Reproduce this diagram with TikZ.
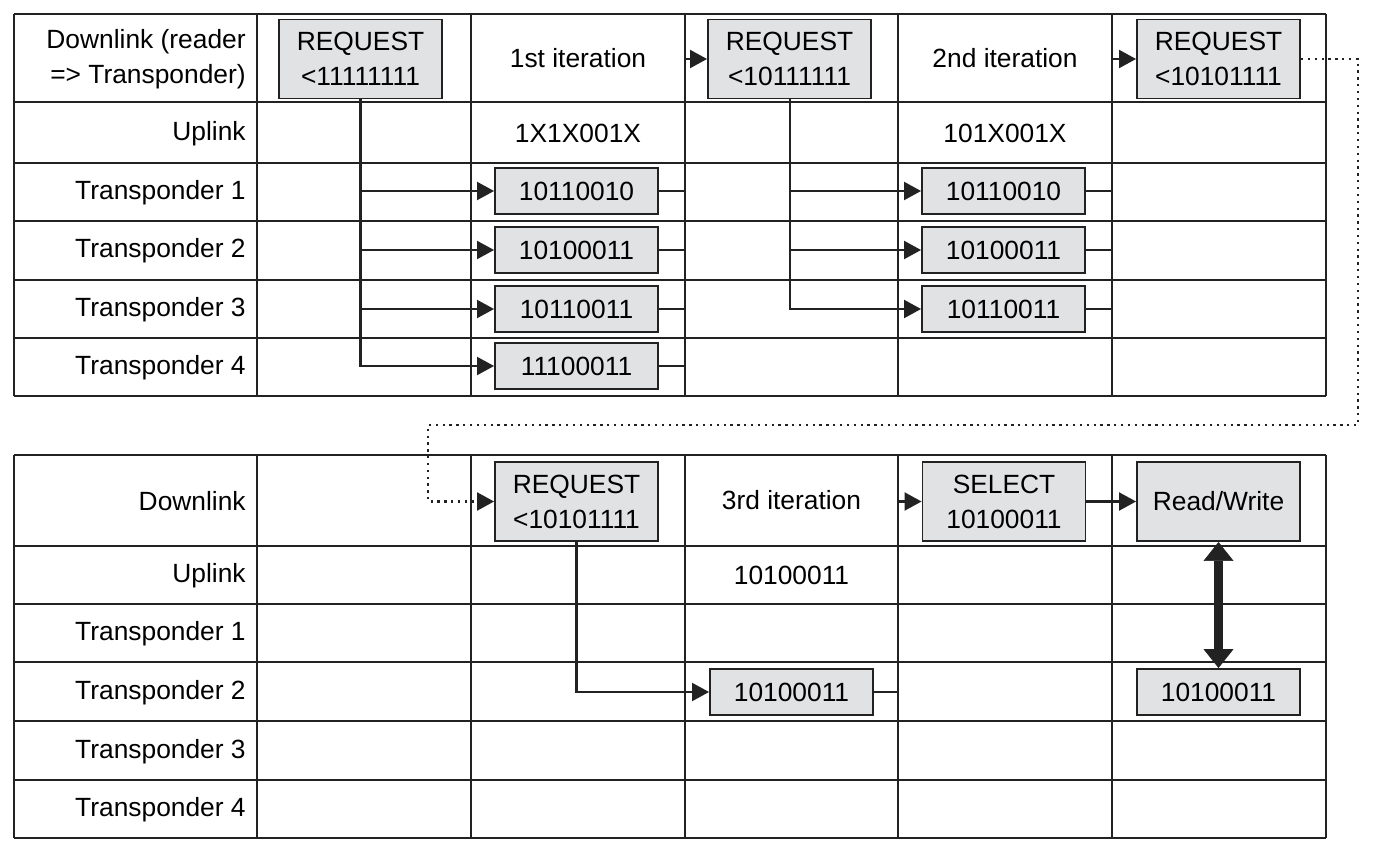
\documentclass[tikz,border=0pt]{standalone}
\usepackage{fontspec}
\setmainfont{Liberation Sans}
\usepackage{xcolor}
\usepackage{tikz}
\usetikzlibrary{arrows.meta,positioning,calc}
\definecolor{CellGray}{HTML}{E1E2E4}
\definecolor{LineDark}{HTML}{222222}

\begin{document}
\begin{tikzpicture}[
  x=0.02cm, y=-0.02cm,
  font=\fontsize{15}{20}\selectfont,
  grid/.style={draw=LineDark,line width=1.25pt},
  msgbox/.style={draw=LineDark,line width=1.1pt,fill=CellGray,minimum width=3.26cm,minimum height=1.58cm,inner sep=2pt,align=center},
  bitbox/.style={msgbox,minimum height=0.92cm},
  rowlabel/.style={anchor=east,align=right,inner sep=0pt},
  arrow/.style={-{Triangle[length=0.34cm,width=0.36cm]},line width=1.15pt,draw=LineDark},
  stub/.style={line width=1.15pt,draw=LineDark},
  link/.style={arrow,line width=1.3pt,dash pattern=on 1.3pt off 2.6pt},
  rwarrow/.style={{Triangle[length=0.38cm,width=0.6cm,line width=0.4pt]}-{Triangle[length=0.38cm,width=0.6cm,line width=0.4pt]},line width=0.18cm,draw=LineDark}
]
  \useasboundingbox (0,0) rectangle (1378,868);

  % tables
  \foreach \y in {14,102,163,221,280,338,396} \draw[grid] (14,\y) -- (1326,\y);
  \foreach \x in {14,257,471,685,898,1112,1326} \draw[grid] (\x,14) -- (\x,396);
  \foreach \y in {455,546,604,662,721,780,838} \draw[grid] (14,\y) -- (1326,\y);
  \foreach \x in {14,257,471,685,898,1112,1326} \draw[grid] (\x,455) -- (\x,838);

  \coordinate (g3) at (685,0);
  \coordinate (g4) at (898,0);
  \coordinate (g5) at (1112,0);

  % row labels
  \node[rowlabel] (down1) at (246,59) {Downlink (reader\\=> Transponder)};
  \node[rowlabel] (up1) at (246,134) {Uplink};
  \node[rowlabel] (tpA1) at (246,193) {Transponder 1};
  \node[rowlabel] (tpA2) at (246,251) {Transponder 2};
  \node[rowlabel] (tpA3) at (246,310) {Transponder 3};
  \node[rowlabel] (tpA4) at (246,368) {Transponder 4};
  \node[rowlabel] (down2) at (246,501) {Downlink};
  \node[rowlabel] (up2) at (246,576) {Uplink};
  \node[rowlabel] (tpB1) at (246,634) {Transponder 1};
  \node[rowlabel] (tpB2) at (246,693) {Transponder 2};
  \node[rowlabel] (tpB3) at (246,752) {Transponder 3};
  \node[rowlabel] (tpB4) at (246,810) {Transponder 4};

  % first round
  \node[msgbox] (req1) at (360.5,59) {REQUEST\\<11111111};
  \node (iter1) at (578,58) {1st iteration};
  \node (resp1) at (578,133) {1X1X001X};
  \node[bitbox] (t11) at (576.5,191) {10110010};
  \node[bitbox] (t12) at (576.5,250) {10100011};
  \node[bitbox] (t13) at (576.5,309) {10110011};
  \node[bitbox] (t14) at (576.5,366) {11100011};

  \node[msgbox] (req2) at (789.5,59) {REQUEST\\<10111111};
  \node (iter2) at (1005,58) {2nd iteration};
  \node (resp2) at (1005,133) {101X001X};
  \node[bitbox] (t21) at (1003.5,191) {10110010};
  \node[bitbox] (t22) at (1003.5,250) {10100011};
  \node[bitbox] (t23) at (1003.5,309) {10110011};

  \node[msgbox] (req3) at (1218.5,59) {REQUEST\\<10101111};

  % second round
  \node[msgbox] (req4) at (576.5,501.5) {REQUEST\\<10101111};
  \node (iter3) at (791.5,500) {3rd iteration};
  \node (resp3) at (791.5,575) {10100011};
  \node[bitbox] (t32) at (791.5,692) {10100011};
  \node[msgbox] (sel) at (1004,501.5) {SELECT\\10100011};
  \node[msgbox] (rw) at (1218.5,501.5) {Read/Write};
  \node[bitbox] (rwtag) at (1218.5,692) {10100011};

  \draw[arrow] (req1.south) |- (t14.west);
  \draw[arrow] (req1.south |- t11.west) -- (t11.west);
  \draw[arrow] (req1.south |- t12.west) -- (t12.west);
  \draw[arrow] (req1.south |- t13.west) -- (t13.west);
  \draw[stub] (t11.east) -- (t11.east -| g3);
  \draw[stub] (t12.east) -- (t12.east -| g3);
  \draw[stub] (t13.east) -- (t13.east -| g3);
  \draw[stub] (t14.east) -- (t14.east -| g3);
  \draw[arrow] (req2.west -| g3) -- (req2.west);

  \draw[arrow] (req2.south) |- (t23.west);
  \draw[arrow] (req2.south |- t21.west) -- (t21.west);
  \draw[arrow] (req2.south |- t22.west) -- (t22.west);
  \draw[stub] (t21.east) -- (t21.east -| g5);
  \draw[stub] (t22.east) -- (t22.east -| g5);
  \draw[stub] (t23.east) -- (t23.east -| g5);
  \draw[arrow] (req3.west -| g5) -- (req3.west);

  \coordinate (turnR) at (1358,425);
  \coordinate (turnL) at (428,425);
  \draw[link] (req3.east) -| (turnR) -- (turnL) |- (req4.west);

  \draw[arrow] (req4.south) |- (t32.west);
  \draw[stub] (t32.east) -- (t32.east -| g4);
  \draw[arrow] (sel.west -| g4) -- (sel.west);
  \draw[arrow] (sel) -- (rw);
  \draw[rwarrow] (rw) -- (rwtag);
\end{tikzpicture}
\end{document}
